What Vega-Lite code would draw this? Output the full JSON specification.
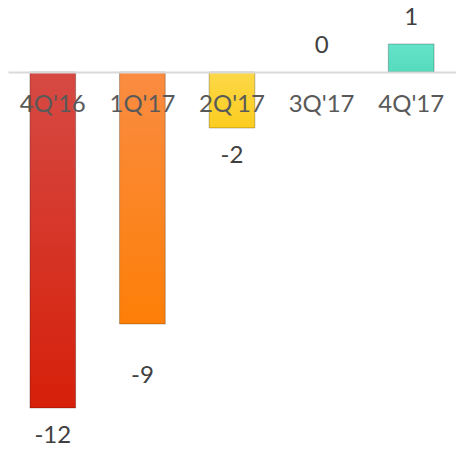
{
  "$schema": "https://vega.github.io/schema/vega-lite/v6.json",
  "width": 448,
  "height": 450,
  "autosize": {"type": "none"},
  "padding": {"left": 8, "top": 0, "right": 0, "bottom": 0},
  "background": "white",
  "config": {"view": {"stroke": null}, "font": "Lato"},
  "data": {
    "values": [
      {"q": "4Q'16", "v": -12},
      {"q": "1Q'17", "v": -9},
      {"q": "2Q'17", "v": -2},
      {"q": "3Q'17", "v": 0},
      {"q": "4Q'17", "v": 1}
    ]
  },
  "encoding": {
    "x": {
      "field": "q", "type": "nominal", "sort": null,
      "scale": {"domain": ["4Q'16", "1Q'17", "2Q'17", "3Q'17", "4Q'17"], "paddingInner": 0.49, "paddingOuter": 0.245},
      "axis": {
        "title": null, "orient": "bottom", "offset": -378, "zindex": 1,
        "labelAngle": 0, "labelFontSize": 24, "labelColor": "#595959",
        "labelPadding": 20, "ticks": false,
        "domainColor": "#d9d9d9", "domainWidth": 2
      }
    },
    "y": {
      "field": "v", "type": "quantitative",
      "scale": {"domain": [-13.5, 2.571], "nice": false, "zero": false},
      "axis": null
    }
  },
  "layer": [
    {
      "transform": [{"filter": "datum.q == \"4Q'16\""}],
      "mark": {"type": "bar", "stroke": "#00000040", "strokeWidth": 1,
        "color": {"gradient": "linear", "x1": 0, "y1": 0, "x2": 0, "y2": 1, "stops": [{"offset": 0, "color": "#d64a44"}, {"offset": 1, "color": "#d6200a"}]}},
      "encoding": {"y2": {"datum": 0}}
    },
    {
      "transform": [{"filter": "datum.q == \"1Q'17\""}],
      "mark": {"type": "bar", "stroke": "#00000040", "strokeWidth": 1,
        "color": {"gradient": "linear", "x1": 0, "y1": 0, "x2": 0, "y2": 1, "stops": [{"offset": 0, "color": "#fa8c42"}, {"offset": 1, "color": "#fd7f08"}]}},
      "encoding": {"y2": {"datum": 0}}
    },
    {
      "transform": [{"filter": "datum.q == \"2Q'17\""}],
      "mark": {"type": "bar", "stroke": "#00000040", "strokeWidth": 1,
        "color": {"gradient": "linear", "x1": 0, "y1": 0, "x2": 0, "y2": 1, "stops": [{"offset": 0, "color": "#fcd848"}, {"offset": 1, "color": "#fccd20"}]}},
      "encoding": {"y2": {"datum": 0}}
    },
    {
      "transform": [{"filter": "datum.q == \"4Q'17\""}],
      "mark": {"type": "bar", "stroke": "#00000040", "strokeWidth": 1,
        "color": {"gradient": "linear", "x1": 0, "y1": 0, "x2": 0, "y2": 1, "stops": [{"offset": 0, "color": "#64e3c9"}, {"offset": 1, "color": "#55dbbe"}]}},
      "encoding": {"y2": {"datum": 0}}
    },
    {
      "transform": [{"filter": "datum.v < 0 && datum.q != \"1Q'17\""}],
      "mark": {"type": "text", "fontSize": 24, "color": "#404040", "baseline": "middle", "dy": 28},
      "encoding": {"text": {"field": "v"}}
    },
    {
      "transform": [{"filter": "datum.q == \"1Q'17\""}],
      "mark": {"type": "text", "fontSize": 24, "color": "#404040", "baseline": "middle", "dy": 52},
      "encoding": {"text": {"field": "v"}}
    },
    {
      "transform": [{"filter": "datum.v >= 0"}],
      "mark": {"type": "text", "fontSize": 24, "color": "#404040", "baseline": "middle", "dy": -26},
      "encoding": {"text": {"field": "v"}}
    }
  ]
}
